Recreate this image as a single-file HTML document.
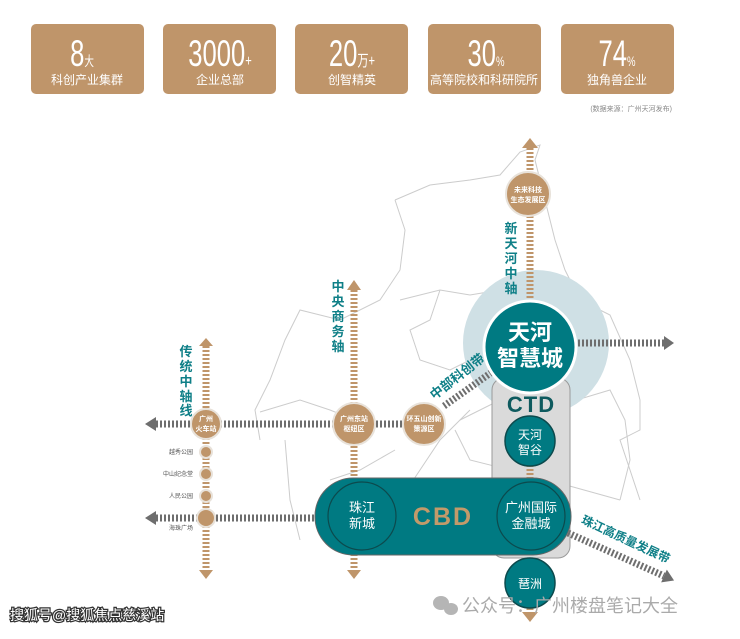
<!DOCTYPE html>
<html><head><meta charset="utf-8"><style>
body{margin:0;background:#fff;width:740px;height:634px;overflow:hidden;font-family:"Liberation Sans","Noto Sans CJK SC",sans-serif}
</style></head><body>
<svg width="740" height="634" viewBox="0 0 740 634" xmlns="http://www.w3.org/2000/svg" font-family="Liberation Sans, Noto Sans CJK SC, sans-serif">
<g fill="#bf956a">
<rect x="31" y="24" width="113" height="70" rx="5"/>
<rect x="163" y="24" width="113" height="70" rx="5"/>
<rect x="295" y="24" width="113" height="70" rx="5"/>
<rect x="428" y="24" width="113" height="70" rx="5"/>
<rect x="561" y="24" width="113" height="70" rx="5"/>
</g>
<g fill="#fff" text-anchor="middle">
<g transform="translate(82,66) scale(0.8,1.15)"><text x="0" y="0" font-size="32">8<tspan font-size="12">大</tspan></text></g>
<text x="87" y="84" font-size="12">科创产业集群</text>
<g transform="translate(220,66) scale(0.8,1.15)"><text x="0" y="0" font-size="32">3000<tspan font-size="14">+</tspan></text></g>
<text x="220" y="84" font-size="12">企业总部</text>
<g transform="translate(352,66) scale(0.8,1.15)"><text x="0" y="0" font-size="32">20<tspan font-size="14">万+</tspan></text></g>
<text x="352" y="84" font-size="12">创智精英</text>
<g transform="translate(486,66) scale(0.8,1.15)"><text x="0" y="0" font-size="32">30<tspan font-size="12">%</tspan></text></g>
<text x="484" y="84" font-size="12">高等院校和科研院所</text>
<g transform="translate(617,66) scale(0.8,1.15)"><text x="0" y="0" font-size="32">74<tspan font-size="12">%</tspan></text></g>
<text x="617" y="84" font-size="12">独角兽企业</text>
</g>
<text x="672" y="111" font-size="7" fill="#888" text-anchor="end">(数据来源：广州天河发布)</text>

<g fill="none" stroke="#ccc" stroke-width="1">
<path d="M395 200 L430 185 L470 180 L500 175 L520 152 L540 145 L535 160 L545 200 L555 240 L565 270 L580 300 L610 315 L630 360 L640 400 L640 430 L620 440 L630 470 L640 500"/>
<path d="M395 200 L405 230 L400 270 L380 300 L340 320 L300 310 L285 340 L270 380 L255 410 L260 440"/>
<path d="M400 300 L440 290 L470 295 L500 290 L560 295"/>
<path d="M440 290 L430 320 L410 330 L420 360 L450 370 L470 360"/>
<path d="M260 412 L300 400 L330 410 L355 420"/>
<path d="M285 440 L290 500 L300 540"/>
<path d="M470 410 L440 440 L420 470 L400 500"/>
<path d="M460 420 L500 400 L560 405 L610 390 L625 420 L630 460 L620 500"/>
<path d="M455 430 L470 460 L530 475 L620 500"/>
<path d="M395 450 L360 470 L330 480"/>
</g>

<circle cx="536" cy="343" r="73" fill="#cfe0e5"/>
<rect x="492" y="378" width="78" height="180" rx="12" fill="#dadada" stroke="#9a9a9a" stroke-width="1"/>

<g stroke="#bf956a" stroke-width="7" stroke-dasharray="2 2" fill="none">
<line x1="206" y1="346" x2="206" y2="570"/>
<line x1="354" y1="290" x2="354" y2="570"/>
<line x1="530" y1="148" x2="530" y2="300"/>
<line x1="530" y1="465" x2="530" y2="480"/>
<line x1="530" y1="600" x2="530" y2="612"/>
</g>
<g fill="#bf956a">
<polygon points="199,346 213,346 206,338"/>
<polygon points="199,570 213,570 206,579"/>
<polygon points="347,290 361,290 354,280"/>
<polygon points="347,570 361,570 354,579"/>
<polygon points="522,148 538,148 530,138"/>
<polygon points="522,612 538,612 530,622"/>
</g>
<g stroke="#6e6e6e" stroke-width="7" stroke-dasharray="2 2" fill="none">
<line x1="156" y1="424" x2="404" y2="424"/>
<line x1="156" y1="518" x2="318" y2="518"/>
<line x1="578" y1="343" x2="664" y2="343"/>
<line x1="444" y1="406" x2="492" y2="372"/>
<line x1="568" y1="533" x2="664" y2="576"/>
</g>
<g fill="#6e6e6e">
<polygon points="156,417 156,431 145,424"/>
<polygon points="156,511 156,525 145,518"/>
<polygon points="664,336 664,350 674,343"/>
<polygon points="0,-7 0,7 11,0" transform="translate(664,576) rotate(24)"/>
</g>

<g fill="#bf956a" stroke="#e8e2da" stroke-width="2">
<circle cx="206" cy="424" r="15"/>
<circle cx="354" cy="424" r="21"/>
<circle cx="424" cy="424" r="21"/>
<circle cx="528" cy="194" r="22"/>
<circle cx="206" cy="452" r="6"/>
<circle cx="206" cy="474" r="6"/>
<circle cx="206" cy="496" r="6"/>
<circle cx="206" cy="518" r="9"/>
</g>
<g fill="#fff" font-size="7" text-anchor="middle" font-weight="bold">
<text x="206" y="421">广州</text><text x="206" y="431">火车站</text>
<text x="354" y="421">广州东站</text><text x="354" y="431">枢纽区</text>
<text x="424" y="421">环五山创新</text><text x="424" y="431">策源区</text>
<text x="528" y="192">未来科技</text><text x="528" y="202">生态发展区</text>
</g>
<g fill="#555" font-size="6" text-anchor="end">
<text x="193" y="454">越秀公园</text>
<text x="193" y="476">中山纪念堂</text>
<text x="193" y="498">人民公园</text>
<text x="193" y="530">海珠广场</text>
</g>

<rect x="315" y="478" width="256" height="77" rx="38" fill="#007a82" stroke="#666" stroke-width="1"/>
<circle cx="362" cy="516" r="34" fill="none" stroke="#0c4a4d" stroke-width="1.2"/>
<circle cx="531" cy="516" r="34" fill="none" stroke="#0c4a4d" stroke-width="1.2"/>
<text x="443" y="525" font-size="25" font-weight="bold" fill="#c29a6a" text-anchor="middle" letter-spacing="2">CBD</text>
<g fill="#fff" font-size="13" text-anchor="middle">
<text x="362" y="512">珠江</text><text x="362" y="528">新城</text>
<text x="531" y="512">广州国际</text><text x="531" y="528">金融城</text>
</g>

<circle cx="530" cy="441" r="25" fill="#007a82" stroke="#0c4a4d" stroke-width="1.5"/>
<text x="530" y="439" fill="#fff" font-size="12" text-anchor="middle">天河</text>
<text x="530" y="454" fill="#fff" font-size="12" text-anchor="middle">智谷</text>
<circle cx="530" cy="583" r="25" fill="#007a82" stroke="#0c4a4d" stroke-width="1.5"/>
<text x="530" y="588" fill="#fff" font-size="12" text-anchor="middle">琶洲</text>
<circle cx="530" cy="347" r="46" fill="#007a82" stroke="#fff" stroke-width="3"/>
<text x="530" y="340" fill="#fff" font-size="22" font-weight="bold" text-anchor="middle">天河</text>
<text x="530" y="366" fill="#fff" font-size="22" font-weight="bold" text-anchor="middle">智慧城</text>
<text x="531" y="412" fill="#0e5a5e" font-size="22" font-weight="bold" text-anchor="middle" letter-spacing="1">CTD</text>

<g fill="#0e7f87" font-size="13" font-weight="bold" text-anchor="middle">
<text x="186" y="356">传</text><text x="186" y="371">统</text><text x="186" y="386">中</text><text x="186" y="401">轴</text><text x="186" y="415">线</text>
<text x="338" y="291">中</text><text x="338" y="306">央</text><text x="338" y="321">商</text><text x="338" y="336">务</text><text x="338" y="351">轴</text>
<text x="511" y="233">新</text><text x="511" y="248">天</text><text x="511" y="263">河</text><text x="511" y="278">中</text><text x="511" y="293">轴</text>
<text transform="translate(460,380) rotate(-38)" x="0" y="0">中部科创带</text>
<text transform="translate(624,543) rotate(25)" x="0" y="0" font-size="12">珠江高质量发展带</text>
</g>

<text x="10" y="620" font-size="14" fill="#fff" stroke="#333" stroke-width="2.5" paint-order="stroke">搜狐号@搜狐焦点慈溪站</text>
<g fill="#b5b5b5"><ellipse cx="441" cy="603" rx="8" ry="7"/><ellipse cx="451" cy="609" rx="7" ry="6"/></g>
<text x="462" y="612" font-size="18" fill="#aaa">公众号：广州楼盘笔记大全</text>
</svg>
</body></html>
